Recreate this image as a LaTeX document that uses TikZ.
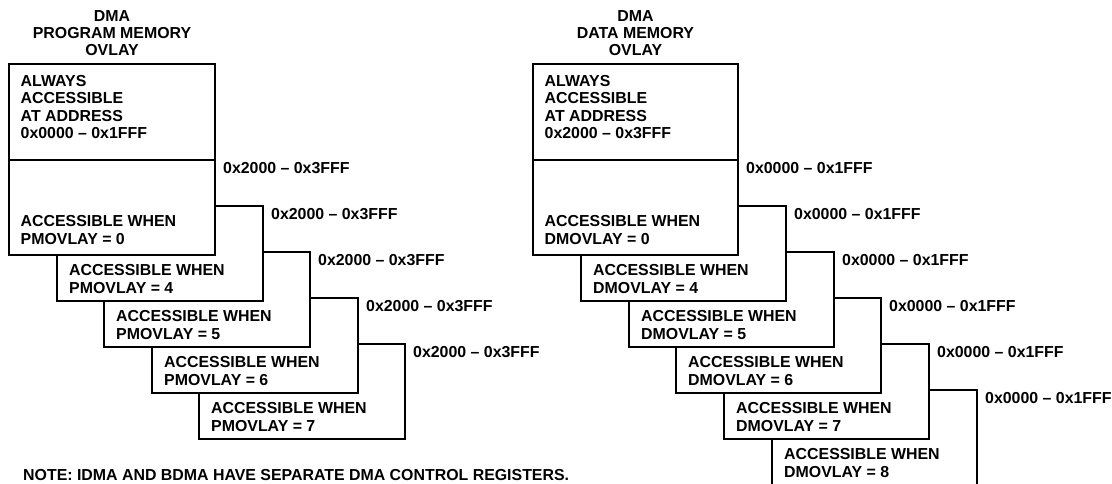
\documentclass[tikz,border=0pt]{standalone}
\usepackage{fontspec}
\setmainfont{Liberation Sans}
\begin{document}
\begin{tikzpicture}[x=1pt,y=-1pt,
  box/.style={draw=black,fill=white,line width=2.6pt},
  divider/.style={draw=black,line width=2.6pt},
  txt/.style={anchor=west,inner sep=0pt,font=\fontsize{15.9}{17.5}\selectfont\bfseries},
  ttl/.style={anchor=center,inner sep=0pt,font=\fontsize{15.9}{17.5}\selectfont\bfseries}]
\useasboundingbox (0,0) rectangle (1112,484);
\clip (0,0) rectangle (1112,484);

% ---------------- left: program memory overlay ----------------
\node[ttl] (pt1) at (112,16) {DMA};
\node[ttl] (pt2) at (112,33) {PROGRAM MEMORY};
\node[ttl] (pt3) at (112,50) {OVLAY};

\foreach \k/\v in {4/7,3/6,2/5,1/4}{
  \pgfmathsetmacro\L{round(9+47.5*\k)}
  \pgfmathsetmacro\R{\L+206}
  \pgfmathsetmacro\T{160+46*\k}
  \pgfmathsetmacro\B{\T+95}
  \draw[box] (\L,\T) rectangle (\R,\B);
  \node[txt] (pa\k) at (\L+12,\B-31) {ACCESSIBLE WHEN};
  \node[txt] (pb\k) at (\L+12,\B-13) {PMOVLAY = \v};
  \node[txt] (pl\k) at (\R+8,\T+8) {0x2000 \textendash{} 0x3FFF};
}
\draw[box] (9,64) rectangle (215,255);
\draw[divider] (9,160) -- (215,160);
\node[txt] (pm1) at (20.5,81) {ALWAYS};
\node[txt] (pm2) at (20.5,98.3) {ACCESSIBLE};
\node[txt] (pm3) at (20.5,115.6) {AT ADDRESS};
\node[txt] (pm4) at (20.5,133) {0x0000 \textendash{} 0x1FFF};
\node[txt] (pa0) at (20.5,221) {ACCESSIBLE WHEN};
\node[txt] (pb0) at (20.5,239) {PMOVLAY = 0};
\node[txt] (pl0) at (223,168) {0x2000 \textendash{} 0x3FFF};

% ---------------- right: data memory overlay ----------------
\node[ttl] (dt1) at (635.5,16) {DMA};
\node[ttl] (dt2) at (635.5,33) {DATA MEMORY};
\node[ttl] (dt3) at (635.5,50) {OVLAY};

\foreach \k/\v in {5/8,4/7,3/6,2/5,1/4}{
  \pgfmathsetmacro\L{round(533+47.8*\k)}
  \pgfmathsetmacro\R{\L+205}
  \pgfmathsetmacro\T{160+46*\k}
  \pgfmathsetmacro\B{\T+95}
  \draw[box] (\L,\T) rectangle (\R,\B);
  \node[txt] (da\k) at (\L+12,\B-31) {ACCESSIBLE WHEN};
  \node[txt] (db\k) at (\L+12,\B-13) {DMOVLAY = \v};
  \node[txt] (dl\k) at (\R+8,\T+8) {0x0000 \textendash{} 0x1FFF};
}
\draw[box] (533,64) rectangle (738,255);
\draw[divider] (533,160) -- (738,160);
\node[txt] (dm1) at (544.5,81) {ALWAYS};
\node[txt] (dm2) at (544.5,98.3) {ACCESSIBLE};
\node[txt] (dm3) at (544.5,115.6) {AT ADDRESS};
\node[txt] (dm4) at (544.5,133) {0x2000 \textendash{} 0x3FFF};
\node[txt] (da0) at (544.5,221) {ACCESSIBLE WHEN};
\node[txt] (db0) at (544.5,239) {DMOVLAY = 0};
\node[txt] (dl0) at (746,168) {0x0000 \textendash{} 0x1FFF};

% ---------------- note ----------------
\node[txt] (note) at (23,475) {NOTE: IDMA AND BDMA HAVE SEPARATE DMA CONTROL REGISTERS.};
\end{tikzpicture}
\end{document}
